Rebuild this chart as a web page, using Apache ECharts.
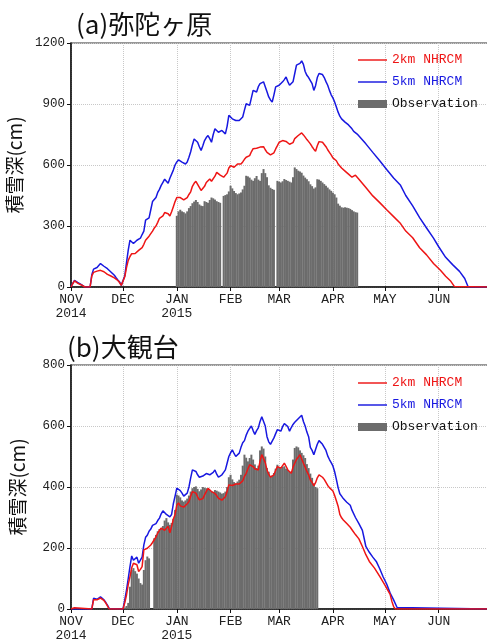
<!DOCTYPE html>
<html>
<head>
<meta charset="utf-8">
<script src="https://cdn.jsdelivr.net/npm/echarts@6/dist/echarts.min.js"></script>
<style>
  html, body { margin: 0; padding: 0; background: #fff; }
  #chart { width: 487px; height: 642px; }
</style>
</head>
<body>
<div id="chart"></div>
<script>
// Snow depth (cm), season Nov 2014 - Jun 2015. Day index 0 = 2014-11-01.

// (a) 弥陀ヶ原 : model runs as [day, depth]
const midagahara2km = [
  [0,0],[1,16],[2,30],[3,25],[4,18],[5,15],[6,10],[7,3],[8,0],[11,0],[12,55],[13,72],[14,76],[15,78],[16,80],[17,82],[18,79],[19,75],[20,68],[21,62],[22,58],[23,54],[24,50],[25,45],[26,41],[27,32],[28,22],[29,8],[30,0],
  [31,50],[32,95],[33,131],[34,150],[35,164],[36,156],[37,165],[38,173],[39,180],[40,186],[41,194],[42,210],[43,230],[44,240],[45,250],[46,258],[47,275],[48,290],[49,300],[50,318],[51,338],[52,345],[53,350],[54,366],[55,372],[56,360],[57,349],[58,370],[59,395],[60,420],
  [61,440],[62,448],[63,440],[64,433],[65,428],[66,424],[67,440],[68,455],[69,468],[70,495],[71,510],[72,520],[73,505],[74,490],[75,475],[76,473],[77,495],[78,514],[79,522],[80,531],[81,520],[82,514],[83,545],[84,564],[85,558],[86,550],[87,545],[88,540],[89,531],[90,560],
  [91,585],[92,597],[93,590],[94,589],[95,598],[96,605],[97,605],[98,605],[99,615],[100,628],[101,638],[102,645],[103,646],[104,665],[105,680],[106,687],[107,682],[108,679],[109,688],[110,695],[111,690],[112,675],[113,662],[114,655],[115,650],[116,646],[117,660],[118,679],[119,695],
  [120,712],[121,716],[122,720],[123,720],[124,716],[125,712],[126,702],[127,695],[128,710],[129,730],[130,737],[131,745],[132,752],[133,758],[134,748],[135,737],[136,725],[137,715],[138,704],[139,690],[140,678],[141,668],[142,695],[143,715],[144,724],[145,712],[146,704],[147,690],[148,675],[149,662],[150,650],
  [151,635],[152,628],[153,621],[154,605],[155,595],[156,585],[157,578],[158,570],[159,562],[160,555],[161,548],[162,540],[163,531],[164,550],[165,540],[166,530],[167,522],[170,489],[174,448],[178,415],[182,380],[186,346],[190,312],[193,275],[197,242],[201,193],[205,158],[209,116],[213,82],[216,53],[219,28],[221,3],[222,0],[241,0]
];
const midagahara5km = [
  [0,0],[1,18],[2,32],[3,28],[4,22],[5,18],[6,12],[7,5],[8,0],[11,0],[12,60],[13,88],[14,95],[15,96],[16,102],[17,115],[18,112],[19,102],[20,96],[21,90],[22,82],[23,74],[24,66],[25,58],[26,46],[27,35],[28,25],[29,8],[30,0],
  [31,55],[32,120],[33,181],[34,230],[35,222],[36,214],[37,222],[38,230],[39,236],[40,240],[41,258],[42,275],[43,329],[44,333],[45,340],[46,380],[47,420],[48,425],[49,440],[50,465],[51,480],[52,500],[53,515],[54,530],[55,520],[56,510],[57,535],[58,530],[59,575],[60,600],
  [61,615],[62,625],[63,620],[64,614],[65,610],[66,605],[67,615],[68,638],[69,665],[70,700],[71,728],[72,722],[73,712],[74,690],[75,671],[76,695],[77,720],[78,735],[79,745],[80,730],[81,712],[82,750],[83,778],[84,770],[85,761],[86,765],[87,770],[88,762],[89,753],[90,790],
  [91,844],[92,835],[93,827],[94,822],[95,819],[96,818],[97,819],[98,828],[99,836],[100,870],[101,901],[102,897],[103,893],[104,930],[105,967],[106,962],[107,959],[108,985],[109,1000],[110,1005],[111,1009],[112,985],[113,960],[114,935],[115,920],[116,910],[117,945],[118,984],[119,990],
  [120,992],[121,1000],[122,1009],[123,1020],[124,1033],[125,1010],[126,992],[127,1000],[128,1009],[129,1050],[130,1091],[131,1086],[132,1100],[133,1112],[134,1095],[135,1060],[136,1041],[137,1030],[138,1025],[139,1000],[140,967],[141,990],[142,1030],[143,1050],[144,1058],[145,1045],[146,1030],[147,1010],[148,992],[149,967],[150,945],
  [151,930],[152,910],[153,885],[154,860],[155,840],[156,827],[157,818],[158,811],[159,805],[160,797],[161,790],[162,778],[163,765],[164,760],[165,752],[166,745],[170,704],[174,662],[178,621],[182,578],[186,536],[190,500],[193,450],[197,399],[201,341],[205,290],[209,240],[212,198],[216,146],[220,110],[224,77],[227,42],[229,0],[241,0]
];
// observed daily depth, first value on day 61 (2015-01-01); null = missing day
const midagaharaObsStart = 61;
const midagaharaObs = [
  350,372,380,372,368,362,372,388,398,412,
  420,428,418,406,400,398,422,418,414,428,
  440,436,430,422,418,414,null,448,452,456,
  470,498,485,472,462,456,460,465,480,498,
  547,544,538,528,522,535,546,528,522,560,
  580,560,540,500,488,482,478,null,522,518,
  514,520,531,526,522,518,514,540,588,580,
  572,568,562,548,538,530,520,505,496,484,
  490,530,528,522,514,506,498,489,480,473,
  464,456,440,410,400,392,390,392,390,388,
  384,378,372,368,366
];

// (b) 大観台
const daikandai2km = [
  [0,0],[1,5],[2,4],[3,0],[12,0],[13,30],[14,36],[15,30],[16,35],[17,36],[18,33],[19,28],[20,20],[21,10],[22,0],[30,0],
  [31,20],[32,46],[33,80],[34,106],[35,135],[36,150],[37,148],[38,145],[39,123],[40,130],[41,139],[42,194],[43,196],[44,199],[45,205],[46,210],[47,218],[48,227],[49,236],[50,249],[51,258],[52,265],[53,268],[54,258],[55,262],[56,271],[57,250],[58,270],[59,295],[60,310],
  [61,340],[62,348],[63,338],[64,335],[65,334],[66,335],[67,345],[68,352],[69,370],[70,385],[71,384],[72,380],[73,368],[74,358],[75,352],[76,362],[77,374],[78,385],[79,396],[80,390],[81,385],[82,382],[83,379],[84,372],[85,363],[86,358],[87,357],[88,362],[89,368],[90,385],
  [91,407],[92,407],[93,405],[94,407],[95,410],[96,412],[97,410],[98,407],[99,420],[100,435],[101,445],[102,460],[103,473],[104,470],[105,467],[106,460],[107,458],[108,456],[109,485],[110,506],[111,500],[112,480],[113,456],[114,442],[115,432],[116,429],[117,440],[118,455],[119,467],
  [120,464],[121,462],[122,470],[123,478],[124,468],[125,456],[126,450],[127,445],[128,465],[129,478],[130,490],[131,498],[132,506],[133,500],[134,478],[135,465],[136,451],[137,440],[138,423],[139,415],[140,404],[141,414],[142,430],[143,440],[144,440],[145,432],[146,425],[147,415],[148,405],[149,398],[150,392],
  [151,387],[152,372],[153,355],[154,337],[155,310],[156,299],[157,292],[158,288],[159,280],[160,275],[161,268],[162,260],[164,244],[166,230],[168,205],[170,178],[172,156],[175,134],[178,107],[181,78],[184,48],[185,25],[186,8],[187,0],[241,0]
];
const daikandai5km = [
  [0,0],[12,0],[13,35],[14,40],[15,32],[16,38],[17,40],[18,36],[19,30],[20,22],[21,13],[22,2],[23,0],[30,0],
  [31,30],[32,62],[33,100],[34,139],[35,174],[36,160],[37,158],[38,170],[39,150],[40,160],[41,170],[42,210],[43,235],[44,242],[45,255],[46,262],[47,274],[48,268],[49,280],[50,290],[51,298],[52,312],[53,322],[54,320],[55,310],[56,306],[57,302],[58,310],[59,345],[60,370],
  [61,396],[62,402],[63,388],[64,380],[65,370],[66,368],[67,380],[68,400],[69,430],[70,456],[71,455],[72,451],[73,440],[74,432],[75,429],[76,436],[77,440],[78,444],[79,445],[80,440],[81,434],[82,448],[83,456],[84,442],[85,432],[86,430],[87,440],[88,448],[89,456],[90,478],
  [91,500],[92,512],[93,522],[94,510],[95,500],[96,505],[97,511],[98,530],[99,545],[100,552],[101,570],[102,583],[103,592],[104,600],[105,585],[106,572],[107,585],[108,594],[109,615],[110,630],[111,625],[112,600],[113,565],[114,548],[115,540],[116,545],[117,561],[118,575],[119,588],
  [120,586],[121,583],[122,598],[123,608],[124,612],[125,598],[126,583],[127,595],[128,605],[129,612],[130,616],[131,624],[132,630],[133,635],[134,615],[135,600],[136,580],[137,565],[138,530],[139,520],[140,506],[141,512],[142,540],[143,552],[144,550],[145,540],[146,530],[147,520],[148,502],[149,490],[150,480],
  [151,469],[152,450],[153,425],[154,398],[155,378],[156,370],[157,362],[158,356],[159,350],[160,345],[161,340],[162,324],[164,300],[166,280],[168,258],[169,232],[170,205],[172,186],[174,170],[176,156],[178,132],[180,105],[182,82],[184,52],[186,30],[188,5],[189,0],[241,0]
];
const daikandaiObsStart = 31;
const daikandaiObs = [
  5,10,20,73,128,134,124,116,100,85,
  80,128,160,172,166,null,null,232,243,255,
  262,266,272,290,298,284,276,282,295,325,
  375,372,366,356,352,356,362,372,385,396,
  400,402,394,386,392,400,398,396,392,390,
  386,384,390,388,385,382,378,380,385,400,
  432,440,425,416,412,418,424,440,470,506,
  496,484,495,506,490,474,462,470,520,533,
  526,500,462,450,436,438,446,460,473,466,
  462,466,468,460,456,450,446,490,528,533,
  530,520,512,504,495,475,462,444,430,412,
  400,396
];

const monthNames = ['JAN','FEB','MAR','APR','MAY','JUN','JUL','AUG','SEP','OCT','NOV','DEC'];
const seasonStart = Date.UTC(2014, 10, 1);
const seasonDays = 242; // 2014-11-01 .. 2015-06-30

// daily category labels 'YYYY-MM-DD'
const dayLabels = [];
for (let i = 0; i < seasonDays; i++) {
  dayLabels.push(new Date(seasonStart + i * 86400000).toISOString().slice(0, 10));
}

const RED = '#ee1515';
const BLUE = '#1818e0';
const GRAY = '#6c6c6c';
const GRID_LINE = '#c8c8c8';
const AXIS = '#111';
const monoFont = '"Liberation Mono", monospace';
const cjkFont = '"Noto Sans CJK JP", sans-serif';
const LINE_ICON = 'path://M0,0H100V5H0Z';

function isMonthStart(index, value) {
  return value.slice(8, 10) === '01';
}
function monthLabel(value) {
  const y = value.slice(0, 4);
  const m = +value.slice(5, 7);
  const name = monthNames[m - 1];
  return (m === 11 || m === 1) ? name + '\n' + y : name;
}
function obsPairs(start, values) {
  const out = [];
  values.forEach((v, i) => { if (v !== null) out.push([start + i, v]); });
  return out;
}

function xAxisFor(gridIndex) {
  return {
    gridIndex, type: 'category', data: dayLabels, boundaryGap: false,
    axisLine: { lineStyle: { color: AXIS, width: 1.5 } },
    axisTick: { show: true, interval: isMonthStart, length: 4, lineStyle: { color: AXIS } },
    axisLabel: {
      interval: isMonthStart, formatter: monthLabel, margin: 6,
      fontFamily: monoFont, fontSize: 13, lineHeight: 14, color: '#222'
    },
    splitLine: { show: true, interval: isMonthStart, lineStyle: { color: GRID_LINE, type: 'dotted', width: 1 } }
  };
}
function yAxisFor(gridIndex, max, step) {
  return {
    gridIndex, type: 'value', min: 0, max: max, interval: step,
    name: '積雪深(cm)', nameLocation: 'middle', nameRotate: 90, nameGap: 44,
    nameTextStyle: { fontFamily: cjkFont, fontSize: 19, color: '#111' },
    axisLine: { show: true, lineStyle: { color: AXIS, width: 1.5 } },
    axisTick: { show: true, length: 4, lineStyle: { color: AXIS } },
    axisLabel: { fontFamily: monoFont, fontSize: 12.5, color: '#222', margin: 6, formatter: v => String(v) },
    splitLine: { show: true, lineStyle: { color: GRID_LINE, type: 'dotted', width: 1 } }
  };
}
function seriesFor(idx, obsStart, obs, run2, run5) {
  return [
    { name: 'Observation', type: 'bar', xAxisIndex: idx, yAxisIndex: idx,
      data: obsPairs(obsStart, obs), barWidth: 2, itemStyle: { color: GRAY }, z: 1 },
    { name: '5km NHRCM', type: 'line', xAxisIndex: idx, yAxisIndex: idx, data: run5,
      symbol: 'none', lineStyle: { color: BLUE, width: 1.5 }, itemStyle: { color: BLUE }, z: 2 },
    { name: '2km NHRCM', type: 'line', xAxisIndex: idx, yAxisIndex: idx, data: run2,
      symbol: 'none', lineStyle: { color: RED, width: 1.5 }, itemStyle: { color: RED }, z: 3 }
  ];
}
function legendAt(top) {
  return {
    left: 358, top: top, orient: 'vertical', padding: 0,
    itemWidth: 29, itemHeight: 8, itemGap: 8,
    textStyle: { fontFamily: monoFont, fontSize: 13, lineHeight: 14 },
    data: [
      { name: '2km NHRCM', icon: LINE_ICON, itemStyle: { color: RED }, textStyle: { color: RED } },
      { name: '5km NHRCM', icon: LINE_ICON, itemStyle: { color: BLUE }, textStyle: { color: BLUE } },
      { name: 'Observation', icon: 'rect', textStyle: { color: '#111' } }
    ]
  };
}
function gridAt(top) {
  return {
    left: 71, right: -2, top: top, height: 244,
    containLabel: false, outerBoundsMode: 'none',
    show: true, borderColor: '#333', borderWidth: 1.2
  };
}

const chart = echarts.init(document.getElementById('chart'), null, { renderer: 'canvas' });
chart.setOption({
  animation: false,
  backgroundColor: '#fff',
  grid: [gridAt(43), gridAt(365)],
  xAxis: [xAxisFor(0), xAxisFor(1)],
  yAxis: [yAxisFor(0, 1200, 300), yAxisFor(1, 800, 200)],
  legend: [legendAt(53), legendAt(376)],
  graphic: [
    { type: 'text', x: 76, y: 24, style: { text: '(a)弥陀ヶ原', font: '26px ' + cjkFont, fill: '#111', verticalAlign: 'middle' } },
    { type: 'text', x: 67, y: 347, style: { text: '(b)大観台', font: '26px ' + cjkFont, fill: '#111', verticalAlign: 'middle' } }
  ],
  series: [].concat(
    seriesFor(0, midagaharaObsStart, midagaharaObs, midagahara2km, midagahara5km),
    seriesFor(1, daikandaiObsStart, daikandaiObs, daikandai2km, daikandai5km)
  )
});
</script>
</body>
</html>
